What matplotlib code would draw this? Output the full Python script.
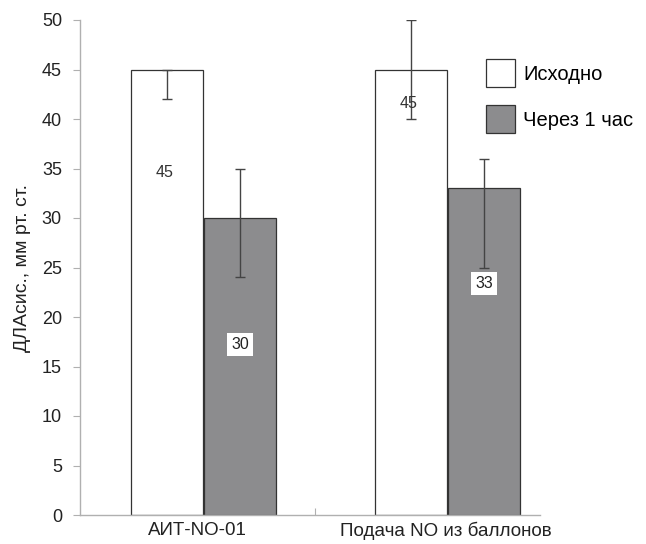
import matplotlib
matplotlib.use("Agg")
import matplotlib.pyplot as plt
from matplotlib.patches import Patch

categories = ["АИТ-NO-01", "Подача NO из баллонов"]
series_names = ["Исходно", "Через 1 час"]
baseline = [45, 45]
after1h = [30, 33]
baseline_err_low = [3, 5]
baseline_err_high = [0, 5]
after_err_low = [6, 8]
after_err_high = [5, 3]
label_pos_base = [34.6, 41.6]
label_pos_after = [17.2, 23.4]
yticks = list(range(0, 51, 5))

plt.rcParams['font.family'] = ['Liberation Sans', 'DejaVu Sans']

fig = plt.figure(figsize=(6.46, 5.44), dpi=100)
ax = fig.add_axes([80/646, 1-515/544, 460/646, 495/544])

w = 0.295
gap = 0.006
xs = [0, 1]
x_base = [x - w/2 - gap/2 for x in xs]
x_after = [x + w/2 + gap/2 for x in xs]

ax.bar(x_base, baseline, width=w, color="white", edgecolor="#333333", linewidth=0.9, zorder=2)
ax.bar(x_after, after1h, width=w, color="#8c8c8e", edgecolor="#333333", linewidth=0.9, zorder=2)

ax.errorbar(x_base, baseline, yerr=[baseline_err_low, baseline_err_high], fmt='none',
            ecolor="#444444", elinewidth=1.0, capsize=3.5, capthick=1.0, zorder=3)
ax.errorbar(x_after, after1h, yerr=[after_err_low, after_err_high], fmt='none',
            ecolor="#444444", elinewidth=1.0, capsize=3.5, capthick=1.0, zorder=3)

for x, v, p in zip(x_base, baseline, label_pos_base):
    ax.text(x - 0.01, p, str(v), ha='center', va='center', fontsize=11.5, color="#333333", zorder=4)
for x, v, p in zip(x_after, after1h, label_pos_after):
    ax.text(x, p, str(v), ha='center', va='center', fontsize=11.5, color="#222222", zorder=4,
            bbox=dict(boxstyle='square,pad=0.25', facecolor='white', edgecolor='none'))

ax.set_xlim((80-203.5)/244, (540-203.5)/244)
ax.set_ylim(0, 50)
ax.set_yticks(yticks)
ax.set_yticklabels([str(t) for t in yticks], fontsize=13, color="#222222")
ax.set_xticks([(315-203.5)/244], minor=False)
ax.set_xticklabels([""])
ax.tick_params(axis='x', direction='in', length=5, color="#b0b0b0")
ax.tick_params(axis='y', direction='out', length=5, color="#b0b0b0", pad=8)
for xc, name in zip([(197-203.5)/244, (446-203.5)/244], categories):
    ax.text(xc, -1.55, name, ha='center', va='center', fontsize=13.5, color="#222222",
            transform=ax.transData)

for s in ['top', 'right']:
    ax.spines[s].set_visible(False)
for s in ['left', 'bottom']:
    ax.spines[s].set_color("#b0b0b0")
    ax.spines[s].set_linewidth(1.0)

ax.set_ylabel("ДЛАсис., мм рт. ст.", fontsize=14, color="#222222", labelpad=8)

handles = [Patch(facecolor="white", edgecolor="#333333", linewidth=0.9),
           Patch(facecolor="#8c8c8e", edgecolor="#333333", linewidth=0.9)]
leg = fig.legend(handles, series_names, loc='upper left', bbox_to_anchor=(468/646, 1-41/544),
                 frameon=False, fontsize=14.5, handlelength=1.45, handleheight=1.75,
                 labelspacing=0.9, handletextpad=0.4)

fig.savefig("out.png", dpi=100)
